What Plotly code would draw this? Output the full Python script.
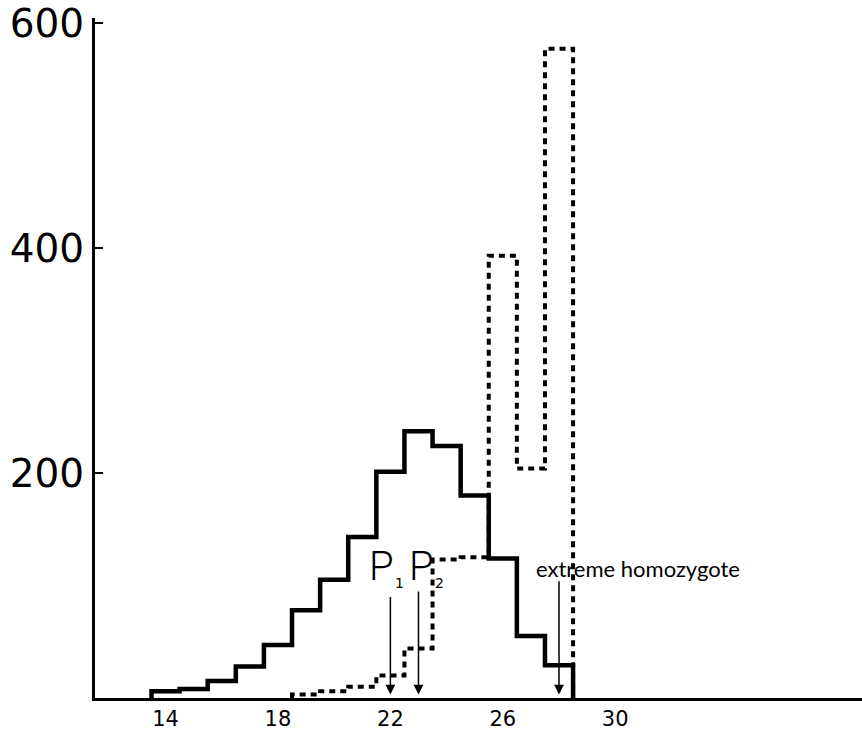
import plotly.graph_objects as go

# ---- data ----
solid_classes = [14, 15, 16, 17, 18, 19, 20, 21, 22, 23, 24, 25, 26, 27, 28]
solid_counts = [6, 8, 15, 28, 47, 78, 105, 143, 201, 237, 224, 180, 124, 55, 29]

dashed_classes = [19, 20, 21, 22, 23, 24, 25, 26, 27, 28]
dashed_counts = [3, 6, 10, 20, 44, 123, 125, 393, 204, 577]

arrow_labels = ["P", "P", "extreme homozygote"]
arrow_subs = ["1", "2", ""]
arrow_x = [22.0, 23.0, 28.0]

x_ticks = [14, 18, 22, 26, 30]
y_ticks = [200, 400, 600]


def step_path(classes, counts, width=1.0):
    xs, ys = [classes[0] - width / 2], [0]
    for c, v in zip(classes, counts):
        xs += [c - width / 2, c + width / 2]
        ys += [v, v]
    xs.append(classes[-1] + width / 2)
    ys.append(0)
    return xs, ys


fig = go.Figure()

sx, sy = step_path(solid_classes, solid_counts)
fig.add_trace(go.Scatter(x=sx, y=sy, mode="lines",
                         line=dict(color="black", width=4.5),
                         hoverinfo="skip", showlegend=False))

dx, dy = step_path(dashed_classes, dashed_counts)
fig.add_trace(go.Scatter(x=dx, y=dy, mode="lines",
                         line=dict(color="black", width=4, dash="6px,5px"),
                         hoverinfo="skip", showlegend=False))

# arrows
arrow_tops = [91, 96, 105]
for xa, top in zip(arrow_x, arrow_tops):
    fig.add_annotation(x=xa, y=3, ax=xa, ay=top, xref="x", yref="y",
                       axref="x", ayref="y", text="", showarrow=True,
                       arrowhead=2, arrowsize=1.3, arrowwidth=1.5,
                       arrowcolor="black")

pfont = dict(family="Roboto", size=40, color="black", weight=300)
sfont = dict(family="DejaVu Sans", size=14, color="black")
for lbl, sub, xp, xs_ in zip(arrow_labels[:2], arrow_subs[:2],
                             [21.67, 23.09], [22.34, 23.73]):
    fig.add_annotation(x=xp, y=117, text=lbl, showarrow=False, font=pfont,
                       xref="x", yref="y")
    fig.add_annotation(x=xs_, y=102, text=sub, showarrow=False, font=sfont,
                       xref="x", yref="y")

fig.add_annotation(x=30.81, y=115, text=arrow_labels[2], showarrow=False,
                   font=dict(family="Lato", size=22, color="black"),
                   xref="x", yref="y")

fig.update_layout(
    width=862, height=731, autosize=False,
    margin=dict(l=95, r=0, t=18, b=31),
    paper_bgcolor="white", plot_bgcolor="white",
    xaxis=dict(range=[11.49, 38.78], tickvals=x_ticks,
               ticktext=[str(t) for t in x_ticks],
               showline=True, linewidth=3, linecolor="black",
               ticks="", showgrid=False, zeroline=False,
               tickfont=dict(family="DejaVu Sans", size=21, color="black")),
    yaxis=dict(range=[0, 604.4], tickvals=y_ticks,
               ticktext=[str(t) for t in y_ticks],
               showline=True, linewidth=3, linecolor="black",
               ticks="inside", ticklen=8, tickwidth=2, tickcolor="black",
               showgrid=False, zeroline=False,
               tickfont=dict(family="DejaVu Sans", size=39, color="black")),
)

fig.write_html("out.html")
